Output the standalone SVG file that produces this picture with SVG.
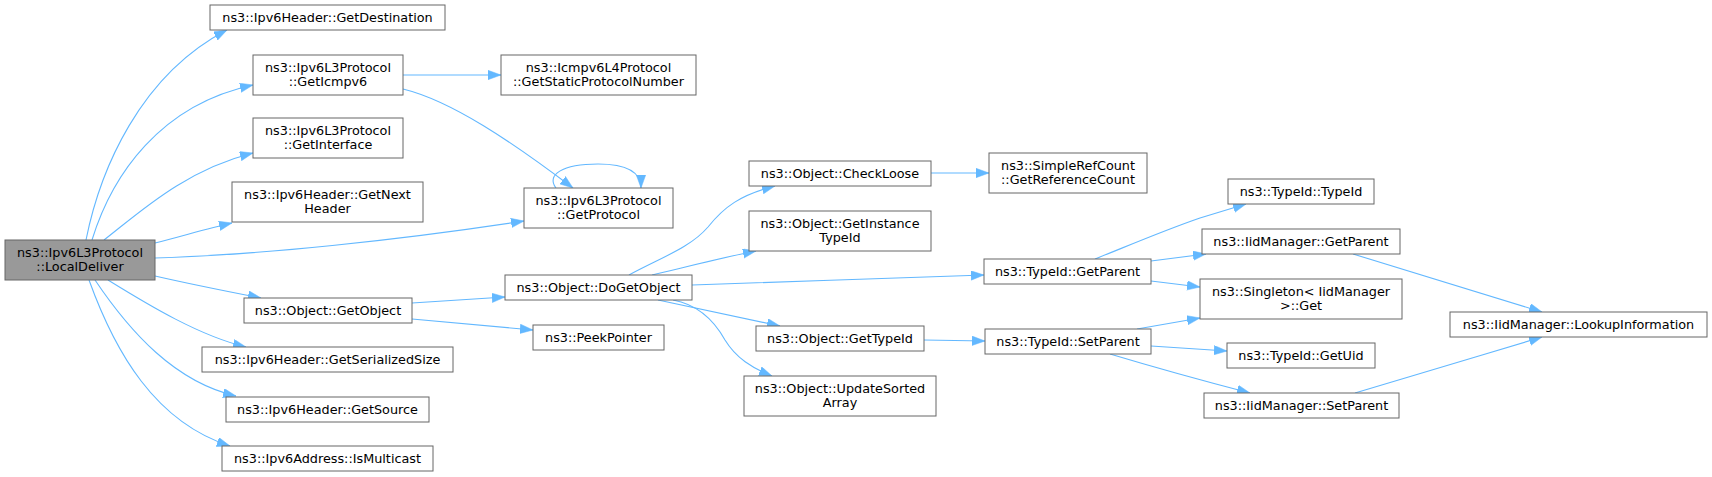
<svg xmlns="http://www.w3.org/2000/svg" width="1712" height="477" viewBox="0 0 1712 477">
<defs>
<style>
.n rect{fill:#ffffff;stroke:#666666;stroke-width:1}
.n.root rect{fill:#999999}
.n text{font-family:"DejaVu Sans",sans-serif;font-size:12.8px;fill:#000000;text-anchor:middle}
.e path{fill:none;stroke:#63b8ff;stroke-width:1.1;marker-end:url(#ah)}
</style>
<marker id="ah" markerUnits="userSpaceOnUse" markerWidth="13" markerHeight="10" refX="13" refY="4.7" orient="auto">
<path d="M0,0 L13,4.7 L0,9.4 z" fill="#63b8ff" stroke="#63b8ff" stroke-width="0.5"/>
</marker>
</defs>
<rect x="0" y="0" width="1712" height="477" fill="#ffffff"/>
<g id="connectors" class="e">
<path d="M86,240 C100,170 140,75 227,30"/>
<path d="M92,240 C112,175 160,105 253,85"/>
<path d="M104,240 C140,212 185,170 253,153"/>
<path d="M155,243 C180,237 205,229 232,223"/>
<path d="M155,258 C260,255 400,240 524,221"/>
<path d="M155,276 C190,284 225,291 261,298"/>
<path d="M108,280 C150,306 200,336 246,347"/>
<path d="M95,280 C130,332 175,382 236,396"/>
<path d="M89,280 C115,352 155,422 230,446"/>
<path d="M403,75 L501,75"/>
<path d="M403,89 C452,101 512,142 573,188"/>
<path d="M556,188 C546,175 562,164 598,164 C626,164 641,171 641,188"/>
<path d="M412,303 L505,297"/>
<path d="M412,319 L533,330"/>
<path d="M629,275 C660,258 690,248 708,227 C724,207 740,195 775,186"/>
<path d="M652,275 C682,268 720,258 756,251"/>
<path d="M692,285 C780,282 900,278 984,275"/>
<path d="M658,300 L780,326"/>
<path d="M673,300 C700,305 715,322 725,340 C736,358 752,368 772,376"/>
<path d="M924,340 L985,341"/>
<path d="M931,173 L989,173"/>
<path d="M1095,259 C1130,245 1165,230 1200,218 L1246,204"/>
<path d="M1151,261 L1206,254"/>
<path d="M1151,281 L1200,287"/>
<path d="M1353,254 C1400,268 1470,290 1542,312"/>
<path d="M1137,329 L1200,318"/>
<path d="M1151,346 L1227,351"/>
<path d="M1110,354 C1150,366 1200,380 1250,393"/>
<path d="M1355,393 C1410,376 1480,356 1542,337"/>
</g>
<g id="LocalDeliver" class="n root"><rect x="5" y="240" width="150" height="40"/><text x="80" y="256.5">ns3::Ipv6L3Protocol</text><text x="80" y="270.5">::LocalDeliver</text></g>
<g id="GetDestination" class="n"><rect x="210" y="5" width="235" height="25"/><text x="327.5" y="21.5">ns3::Ipv6Header::GetDestination</text></g>
<g id="GetIcmpv6" class="n"><rect x="253" y="55" width="150" height="40"/><text x="328" y="71.5">ns3::Ipv6L3Protocol</text><text x="328" y="85.5">::GetIcmpv6</text></g>
<g id="GetInterface" class="n"><rect x="253" y="118" width="150" height="40"/><text x="328" y="134.5">ns3::Ipv6L3Protocol</text><text x="328" y="148.5">::GetInterface</text></g>
<g id="GetNextHeader" class="n"><rect x="232" y="182" width="191" height="40"/><text x="327.5" y="198.5">ns3::Ipv6Header::GetNext</text><text x="327.5" y="212.5">Header</text></g>
<g id="GetObject" class="n"><rect x="244" y="298" width="168" height="25"/><text x="328" y="314.5">ns3::Object::GetObject</text></g>
<g id="GetSerializedSize" class="n"><rect x="202" y="347" width="251" height="25"/><text x="327.5" y="363.5">ns3::Ipv6Header::GetSerializedSize</text></g>
<g id="GetSource" class="n"><rect x="226" y="397" width="203" height="25"/><text x="327.5" y="413.5">ns3::Ipv6Header::GetSource</text></g>
<g id="IsMulticast" class="n"><rect x="222" y="446" width="211" height="25"/><text x="327.5" y="462.5">ns3::Ipv6Address::IsMulticast</text></g>
<g id="GetStaticProtocolNumber" class="n"><rect x="501" y="55" width="195" height="40"/><text x="598.5" y="71.5">ns3::Icmpv6L4Protocol</text><text x="598.5" y="85.5">::GetStaticProtocolNumber</text></g>
<g id="GetProtocol" class="n"><rect x="524" y="188" width="149" height="40"/><text x="598.5" y="204.5">ns3::Ipv6L3Protocol</text><text x="598.5" y="218.5">::GetProtocol</text></g>
<g id="DoGetObject" class="n"><rect x="505" y="275" width="187" height="25"/><text x="598.5" y="291.5">ns3::Object::DoGetObject</text></g>
<g id="PeekPointer" class="n"><rect x="533" y="325" width="131" height="25"/><text x="598.5" y="341.5">ns3::PeekPointer</text></g>
<g id="CheckLoose" class="n"><rect x="749" y="161" width="182" height="25"/><text x="840" y="177.5">ns3::Object::CheckLoose</text></g>
<g id="GetInstanceTypeId" class="n"><rect x="749" y="211" width="182" height="40"/><text x="840" y="227.5">ns3::Object::GetInstance</text><text x="840" y="241.5">TypeId</text></g>
<g id="GetTypeId" class="n"><rect x="756" y="326" width="168" height="25"/><text x="840" y="342.5">ns3::Object::GetTypeId</text></g>
<g id="UpdateSortedArray" class="n"><rect x="744" y="376" width="192" height="40"/><text x="840" y="392.5">ns3::Object::UpdateSorted</text><text x="840" y="406.5">Array</text></g>
<g id="GetReferenceCount" class="n"><rect x="989" y="153" width="158" height="40"/><text x="1068" y="169.5">ns3::SimpleRefCount</text><text x="1068" y="183.5">::GetReferenceCount</text></g>
<g id="TypeIdGetParent" class="n"><rect x="984" y="259" width="167" height="25"/><text x="1067.5" y="275.5">ns3::TypeId::GetParent</text></g>
<g id="TypeIdSetParent" class="n"><rect x="985" y="329" width="166" height="25"/><text x="1068" y="345.5">ns3::TypeId::SetParent</text></g>
<g id="TypeIdTypeId" class="n"><rect x="1228" y="179" width="146" height="25"/><text x="1301" y="195.5">ns3::TypeId::TypeId</text></g>
<g id="IidGetParent" class="n"><rect x="1202" y="229" width="198" height="25"/><text x="1301" y="245.5">ns3::IidManager::GetParent</text></g>
<g id="SingletonGet" class="n"><rect x="1200" y="279" width="202" height="40"/><text x="1301" y="295.5">ns3::Singleton&lt; IidManager</text><text x="1301" y="309.5">&gt;::Get</text></g>
<g id="GetUid" class="n"><rect x="1227" y="343" width="148" height="25"/><text x="1301" y="359.5">ns3::TypeId::GetUid</text></g>
<g id="IidSetParent" class="n"><rect x="1204" y="393" width="195" height="25"/><text x="1301.5" y="409.5">ns3::IidManager::SetParent</text></g>
<g id="LookupInformation" class="n"><rect x="1450" y="312" width="257" height="25"/><text x="1578.5" y="328.5">ns3::IidManager::LookupInformation</text></g>
</svg>
